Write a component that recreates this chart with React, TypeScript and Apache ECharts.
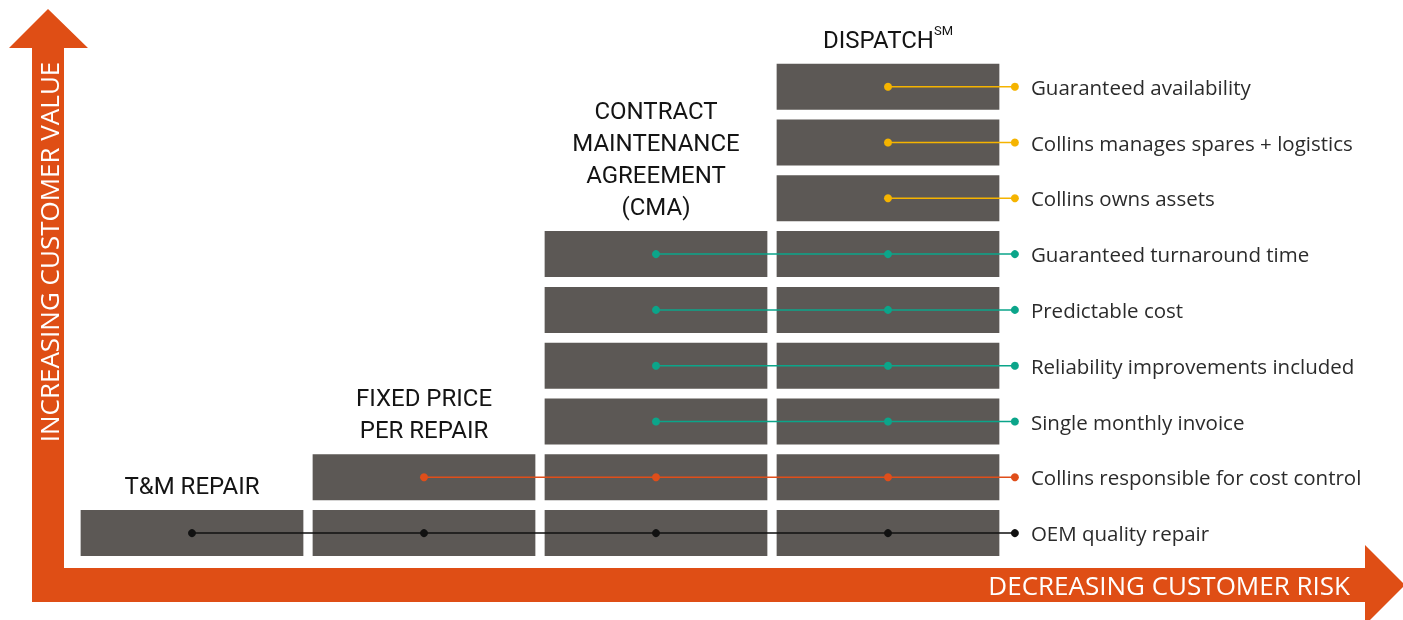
import React, { useEffect, useRef } from "react";
import * as echarts from "echarts";

const columnTitles = ["T&M REPAIR", "FIXED PRICE\nPER REPAIR", "CONTRACT\nMAINTENANCE\nAGREEMENT\n(CMA)", "{t|DISPATCH}{s|SM}"];
const columnHeights = [1, 2, 6, 9];
const features = [
  "OEM quality repair",
  "Collins responsible for cost control",
  "Single monthly invoice",
  "Reliability improvements included",
  "Predictable cost",
  "Guaranteed turnaround time",
  "Collins owns assets",
  "Collins manages spares + logistics",
  "Guaranteed availability",
];
const featureStartColumn = [0, 1, 2, 2, 2, 2, 3, 3, 3];
const groupColors = ["#111111", "#e04e1a", "#0ba58a", "#f5b400"];
const labelX = 3.547;

const ORANGE = "#df4e15";
const FONT = "Roboto";
const LABEL_FONT = "Open Sans";

export default function App() {
  const ref = useRef<HTMLDivElement>(null);
  useEffect(() => {
    if (!ref.current) return;
    const chart = echarts.init(ref.current, null, { renderer: "svg" });

    const blockData: number[][] = [];
    columnHeights.forEach((h, c) => {
      for (let r = 0; r < h; r++) blockData.push([c, r]);
    });

    const titleData = columnHeights.map((h, c) => [c, h - 0.5, c]);

    const featureSeries = features.map((name, r) => {
      const start = featureStartColumn[r];
      const color = groupColors[start];
      const pts: any[] = [];
      for (let c = start; c <= 3; c++) pts.push([c, r]);
      pts.push({
        value: [labelX, r],
        label: {
          show: true,
          position: "right",
          distance: 12,
          formatter: name,
          color: "#2b2b2b",
          fontFamily: LABEL_FONT,
          fontSize: 20.5,
        },
      });
      return {
        type: "line",
        data: pts,
        symbol: "circle",
        symbolSize: 8,
        showSymbol: true,
        itemStyle: { color },
        lineStyle: { color, width: 1.5 },
        z: 3,
        silent: true,
      };
    });

    chart.setOption({
      animation: false,
      grid: { left: 76, right: 51, top: 3, bottom: 59 },
      xAxis: { type: "value", min: -0.5, max: 5, show: false },
      yAxis: { type: "value", min: -0.5, max: 9.5, show: false },
      series: [
        {
          type: "custom",
          data: blockData,
          z: 2,
          renderItem: (params: any, api: any) => {
            const p = api.coord([api.value(0), api.value(1)]);
            const s = api.size([0.96, 0.824]);
            return {
              type: "rect",
              shape: { x: p[0] - s[0] / 2, y: p[1] - s[1] / 2, width: s[0], height: s[1] },
              style: { fill: "#5c5855" },
            };
          },
        },
        {
          type: "custom",
          data: titleData,
          z: 2,
          renderItem: (params: any, api: any) => {
            const p = api.coord([api.value(0), api.value(1)]);
            const idx = api.value(2);
            return {
              type: "text",
              x: p[0],
              y: p[1] - 3,
              style: {
                text: columnTitles[idx],
                fill: "#141414",
                fontFamily: FONT,
                fontSize: 24,
                lineHeight: 32,
                align: "center",
                verticalAlign: "bottom",
                rich: {
                  t: { fontFamily: FONT, fontSize: 24, fill: "#141414", lineHeight: 32 },
                  s: { fontFamily: FONT, fontSize: 13, fill: "#141414", verticalAlign: "top", padding: [0, 0, 10, 0] },
                },
              },
            };
          },
        },
        ...featureSeries,
      ],
      graphic: [
        {
          type: "polygon",
          z: 1,
          shape: {
            points: [
              [9, 48], [48, 9], [88, 48], [64, 48], [64, 568], [1365, 568], [1365, 545],
              [1405, 585], [1365, 625], [1365, 602], [32, 602], [32, 48],
            ],
          },
          style: { fill: ORANGE },
        },
        {
          type: "text",
          z: 2,
          x: 49,
          y: 252,
          rotation: Math.PI / 2,
          style: {
            text: "INCREASING CUSTOMER VALUE",
            fill: "#ffffff",
            fontFamily: LABEL_FONT,
            fontSize: 26,
            align: "center",
            verticalAlign: "middle",
          },
        },
        {
          type: "text",
          z: 2,
          x: 1350,
          y: 585,
          style: {
            text: "DECREASING CUSTOMER RISK",
            fill: "#ffffff",
            fontFamily: LABEL_FONT,
            fontSize: 26,
            align: "right",
            verticalAlign: "middle",
          },
        },
      ],
    });
    return () => chart.dispose();
  }, []);
  return <div ref={ref} style={{ position: "fixed", left: 0, top: 0, width: 1403, height: 620 }} />;
}
